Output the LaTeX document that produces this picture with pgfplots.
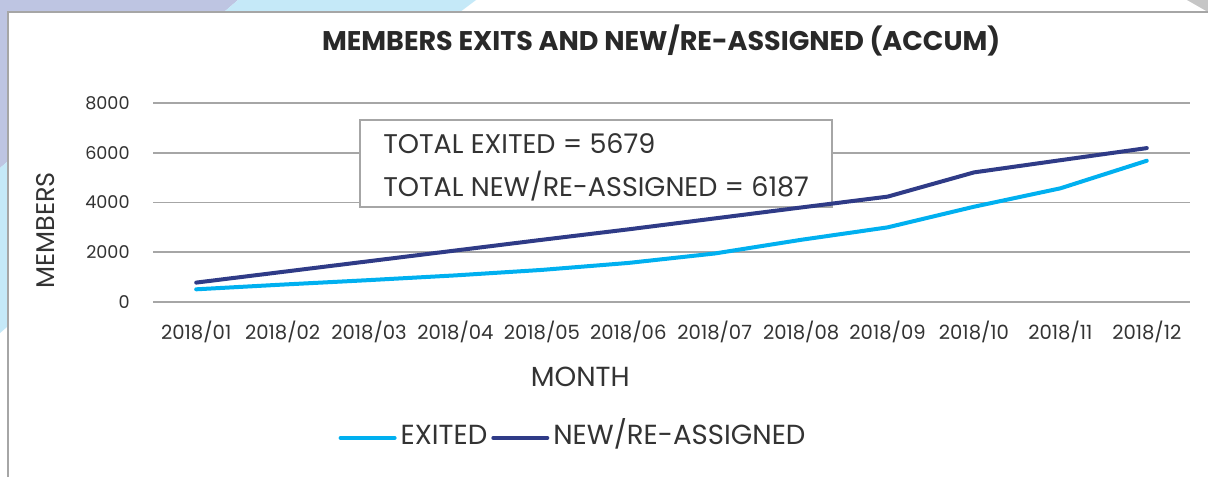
\documentclass[border=0pt]{standalone}
\usepackage{fontspec}
\setmainfont{Poppins}
\usepackage{pgfplots}
\pgfplotsset{compat=1.18}

\definecolor{exitc}{HTML}{00B0F0}
\definecolor{newc}{HTML}{2F3B87}
\definecolor{gridc}{HTML}{A6A6A6}
\definecolor{txt}{HTML}{333333}
\definecolor{lav}{HTML}{BEC5E2}
\definecolor{lblue}{HTML}{C5E9F8}

\begin{document}
\begin{tikzpicture}
% page frame and decoration (image px, y measured from bottom)
\begin{scope}[x=0.5pt,y=0.5pt]
\useasboundingbox (0,0) rectangle (1208,477);
\fill[white] (0,0) rectangle (1208,477);
\fill[lav] (0,477) -- (238,477) -- (224,465) -- (7,465) -- (7,315) -- (0,309) -- cycle;
\fill[lblue] (238,477) -- (476,477) -- (460,465) -- (224,465) -- cycle;
\fill[lblue] (0,309) -- (7,315) -- (7,150) -- (0,144) -- cycle;
\fill[gray!45] (1187,477) -- (1208,477) -- (1208,465) -- cycle;
\draw[gridc, line width=1pt] (7.5,0) -- (7.5,464.5) -- (1208,464.5);
\end{scope}

\begin{axis}[
    at={(76.5pt,87.5pt)}, anchor=south west,
    scale only axis, width=518.5pt, height=99.5pt,
    xmin=-0.5, xmax=11.5, ymin=0, ymax=8000,
    xtick={0,...,11},
    xticklabels={2018/01,2018/02,2018/03,2018/04,2018/05,2018/06,2018/07,2018/08,2018/09,2018/10,2018/11,2018/12},
    ytick={0,2000,4000,6000,8000},
    ymajorgrids, grid style={gridc, line width=0.8pt},
    axis line style={draw=none}, major tick style={draw=none},
    /pgf/number format/assume math mode=true,
    /pgf/number format/1000 sep={},
    ticklabel style={text=txt},
    yticklabel style={anchor=east, inner sep=0pt, xshift=-11.5pt,
        font=\fontsize{8.8}{10}\selectfont},
    xticklabel style={anchor=base, inner sep=0pt, yshift=-18.5pt,
        font=\fontsize{9.8}{11}\selectfont},
    title={MEMBERS EXITS AND NEW/RE-ASSIGNED (ACCUM)},
    title style={at={(axis description cs:0.49,1.256)}, anchor=center,
        font=\bfseries\fontsize{13.5}{15}\selectfont, text=txt!80!black},
    xlabel={MONTH},
    xlabel style={at={(axis description cs:0.412,-0.375)}, anchor=center,
        font=\fontsize{13.8}{15}\selectfont, text=txt},
    ylabel={MEMBERS},
    ylabel style={at={(axis description cs:-0.104,0.36)}, anchor=center,
        font=\fontsize{12.8}{15}\selectfont, text=txt},
    legend columns=2,
    legend style={at={(axis description cs:0.406,-0.683)}, anchor=center,
        draw=none, fill=none, font=\fontsize{13.8}{15}\selectfont, text=txt,
        nodes={text height=1.5ex, text depth=0.25ex, inner xsep=2pt},
        /tikz/every even column/.append style={column sep=0pt},
        inner sep=0pt},
    legend image code/.code={\draw[#1, line cap=round] (0pt,0pt) -- (27pt,0pt);},
]
\draw[gridc, line width=0.8pt, fill=white] (axis cs:1.895,3819) rectangle (axis cs:7.357,7317);
\node[anchor=base west, inner sep=0pt, text=txt, font=\fontsize{13.5}{15}\selectfont]
    at (axis cs:2.16,5950) {TOTAL EXITED = 5679};
\node[anchor=base west, inner sep=0pt, text=txt, font=\fontsize{13.5}{15}\selectfont]
    at (axis cs:2.16,4260) {TOTAL NEW/RE-ASSIGNED = 6187};

\addplot[exitc, line width=2pt, line cap=round, line join=round] coordinates {
 (0,510) (1,700) (2,880) (3,1070) (4,1290) (5,1570)
 (6,1950) (7,2500) (8,3000) (9,3830) (10,4570) (11,5679)};
\addlegendentry{EXITED}
\addplot[newc, line width=2pt, line cap=round, line join=round] coordinates {
 (0,780) (1,1210) (2,1640) (3,2070) (4,2500) (5,2920)
 (6,3360) (7,3800) (8,4235) (9,5210) (10,5700) (11,6187)};
\addlegendentry{NEW/RE-ASSIGNED}
\end{axis}
\end{tikzpicture}
\end{document}
